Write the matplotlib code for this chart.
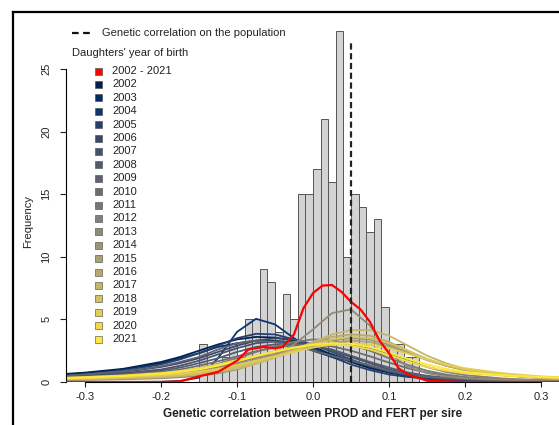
import matplotlib
matplotlib.use("Agg")
import matplotlib.pyplot as plt
import numpy as np
from matplotlib.lines import Line2D
from matplotlib.patches import Rectangle

plt.rcParams['font.family'] = ['Liberation Sans', 'DejaVu Sans']

# histogram of sire correlations (bin width 0.01, first bin starts at -0.15)
bin_counts = [3, 1, 1, 2, 3, 2, 5, 5, 9, 8, 4, 7, 5, 15, 15,
              17, 21, 16, 28, 10, 15, 14, 12, 13, 6, 3, 3, 2, 2]
bin_left = np.round(-0.15 + 0.01 * np.arange(len(bin_counts)), 2)
pop_corr = 0.05

# density curves
grid_x = [-0.325, -0.3, -0.25, -0.2, -0.175, -0.15, -0.125, -0.1, -0.075, -0.05,
          -0.025, 0, 0.025, 0.05, 0.075, 0.1, 0.125, 0.15, 0.175, 0.2, 0.25, 0.3, 0.325]
years = [str(y) for y in range(2002, 2022)]
dens = {
    '2002': [0.65, 0.75, 1.05, 1.6, 2.0, 2.5, 3.0, 3.4, 3.6, 3.55, 3.3, 2.8, 2.2, 1.6, 1.1, 0.75, 0.5, 0.35, 0.25, 0.2, 0.12, 0.08, 0.07],
    '2003': [0.6, 0.7, 1.0, 1.5, 1.9, 2.3, 2.8, 3.1, 3.3, 3.3, 3.1, 2.7, 2.2, 1.7, 1.2, 0.8, 0.55, 0.4, 0.3, 0.22, 0.13, 0.08, 0.07],
    '2004': [0.0, 0.0, 0.0, 0.02, 0.08, 0.35, 1.9, 4.0, 5.05, 4.6, 3.5, 2.5, 2.0, 1.7, 1.3, 0.8, 0.45, 0.25, 0.12, 0.06, 0.02, 0.01, 0.01],
    '2005': [0.5, 0.6, 0.9, 1.4, 1.8, 2.3, 2.9, 3.5, 3.85, 3.8, 3.4, 2.7, 2.0, 1.4, 0.95, 0.6, 0.4, 0.28, 0.2, 0.15, 0.1, 0.07, 0.06],
    '2006': [0.45, 0.55, 0.8, 1.2, 1.5, 1.9, 2.4, 2.9, 3.3, 3.5, 3.4, 3.0, 2.4, 1.8, 1.25, 0.85, 0.55, 0.38, 0.27, 0.2, 0.12, 0.08, 0.07],
    '2007': [0.4, 0.5, 0.7, 1.0, 1.3, 1.7, 2.2, 2.7, 3.1, 3.25, 3.2, 2.9, 2.5, 2.0, 1.5, 1.0, 0.65, 0.42, 0.3, 0.22, 0.13, 0.09, 0.08],
    '2008': [0.35, 0.42, 0.6, 0.9, 1.15, 1.5, 1.9, 2.4, 2.8, 3.0, 3.05, 2.9, 2.6, 2.1, 1.6, 1.15, 0.75, 0.5, 0.35, 0.25, 0.15, 0.1, 0.08],
    '2009': [0.5, 0.6, 0.85, 1.25, 1.6, 2.0, 2.6, 3.1, 3.3, 3.2, 2.9, 2.5, 2.1, 1.7, 1.3, 0.9, 0.6, 0.4, 0.3, 0.22, 0.13, 0.09, 0.08],
    '2010': [0.35, 0.4, 0.55, 0.8, 1.0, 1.3, 1.65, 2.05, 2.45, 2.75, 2.95, 3.0, 2.85, 2.5, 2.05, 1.55, 1.1, 0.75, 0.5, 0.35, 0.2, 0.12, 0.1],
    '2011': [0.3, 0.35, 0.45, 0.65, 0.85, 1.1, 1.45, 1.9, 2.4, 2.85, 3.2, 3.4, 3.35, 3.0, 2.5, 1.9, 1.35, 0.9, 0.6, 0.4, 0.2, 0.12, 0.1],
    '2012': [0.25, 0.3, 0.4, 0.55, 0.7, 0.9, 1.2, 1.55, 1.95, 2.35, 2.7, 2.95, 3.05, 2.95, 2.65, 2.2, 1.7, 1.2, 0.8, 0.55, 0.28, 0.15, 0.12],
    '2013': [0.15, 0.17, 0.22, 0.3, 0.38, 0.5, 0.7, 1.0, 1.5, 2.1, 3.0, 4.2, 5.5, 5.8, 4.5, 2.3, 1.2, 0.7, 0.45, 0.3, 0.18, 0.12, 0.1],
    '2014': [0.3, 0.33, 0.42, 0.55, 0.68, 0.85, 1.1, 1.4, 1.8, 2.2, 2.65, 3.05, 3.35, 3.5, 3.4, 3.0, 2.4, 1.8, 1.3, 0.95, 0.55, 0.33, 0.28],
    '2015': [0.25, 0.28, 0.36, 0.48, 0.6, 0.75, 0.95, 1.25, 1.6, 2.0, 2.45, 2.85, 3.15, 3.3, 3.2, 2.85, 2.3, 1.75, 1.3, 0.95, 0.55, 0.33, 0.28],
    '2016': [0.25, 0.28, 0.35, 0.45, 0.55, 0.7, 0.9, 1.2, 1.6, 2.05, 2.6, 3.15, 3.6, 3.8, 3.7, 3.2, 2.5, 1.8, 1.3, 0.95, 0.55, 0.33, 0.28],
    '2017': [0.2, 0.22, 0.28, 0.38, 0.47, 0.6, 0.8, 1.05, 1.45, 1.95, 2.55, 3.2, 3.8, 4.15, 4.15, 3.7, 2.9, 2.1, 1.5, 1.05, 0.55, 0.3, 0.25],
    '2018': [0.25, 0.28, 0.35, 0.47, 0.57, 0.72, 0.92, 1.2, 1.55, 2.0, 2.5, 3.0, 3.4, 3.6, 3.5, 3.1, 2.5, 1.85, 1.35, 1.0, 0.6, 0.38, 0.32],
    '2019': [0.28, 0.32, 0.4, 0.55, 0.65, 0.82, 1.05, 1.35, 1.7, 2.05, 2.4, 2.75, 3.0, 3.1, 3.0, 2.7, 2.25, 1.8, 1.4, 1.1, 0.7, 0.45, 0.38],
    '2020': [0.35, 0.4, 0.52, 0.72, 0.88, 1.1, 1.4, 1.75, 2.1, 2.45, 2.75, 2.95, 3.0, 2.9, 2.6, 2.15, 1.65, 1.2, 0.9, 0.7, 0.5, 0.38, 0.35],
    '2021': [0.3, 0.35, 0.47, 0.65, 0.8, 1.0, 1.3, 1.65, 2.05, 2.4, 2.75, 3.0, 3.1, 3.05, 2.8, 2.35, 1.85, 1.4, 1.05, 0.8, 0.55, 0.4, 0.35],
}
all_x = [-0.325, -0.2, -0.175, -0.15, -0.125, -0.1, -0.085, -0.065, -0.05, -0.04, -0.025,
         -0.0125, 0, 0.0125, 0.025, 0.0375, 0.05, 0.0625, 0.075, 0.0875, 0.1, 0.1125,
         0.125, 0.15, 0.2, 0.325]
all_y = [0, 0, 0.05, 0.45, 0.8, 1.7, 2.6, 2.8, 2.7, 2.8, 3.8,
         5.9, 7.1, 7.7, 7.75, 7.2, 6.4, 5.8, 4.8, 3.3, 2.3, 1.1,
         0.6, 0.1, 0, 0]

W, H = 559, 425
fig = plt.figure(figsize=(W / 100, H / 100), dpi=100)
ax = fig.add_axes([66 / W, 43 / H, 493 / W, 362 / H])

ax.bar(bin_left, bin_counts, width=0.01, align='edge', color='#d3d3d3',
       edgecolor='#555555', linewidth=0.7, zorder=1)

cols = plt.cm.cividis(np.linspace(0, 1, len(years)))
for yr, c in zip(years, cols):
    ax.plot(grid_x, dens[yr], color=c, lw=1.3, zorder=2, clip_on=True)
ax.plot(all_x, all_y, color='#ff0000', lw=1.6, zorder=3)

ax.plot([pop_corr, pop_corr], [0, 27.1], color='#222222', lw=1.6,
        linestyle=(0, (2.8, 1.6)), zorder=4)

ax.set_xlim(-0.325, -0.325 + 493 / 760)
ax.set_ylim(0, 362 / 12.52)
for s in ['top', 'right']:
    ax.spines[s].set_visible(False)
ax.spines['left'].set_bounds(0, 25)
ax.spines['bottom'].set_bounds(-0.3, 0.3)
ax.spines['left'].set_linewidth(0.8)
ax.spines['bottom'].set_linewidth(0.8)
ax.set_xticks([-0.3, -0.2, -0.1, 0.0, 0.1, 0.2, 0.3])
ax.set_xticklabels(['-0.3', '-0.2', '-0.1', '0.0', '0.1', '0.2', '0.3'])
ax.set_yticks([0, 5, 10, 15, 20, 25])
ax.tick_params(axis='x', length=3.5, width=0.8, labelsize=8, pad=4, colors='#222222')
ax.tick_params(axis='y', length=4.5, width=0.8, labelsize=8, pad=6, colors='#222222')
for lab in ax.get_yticklabels():
    lab.set_rotation(90)
    lab.set_va('center')

fig.text(313 / W, 1 - 414 / H, 'Genetic correlation between PROD and FERT per sire',
         ha='center', va='center', fontsize=8.5, fontweight='bold', color='#222222')
fig.text(28 / W, 1 - 221 / H, 'Frequency', rotation=90, ha='center', va='center',
         fontsize=8, color='#222222')

# legend drawn by hand in pixel positions
def fx(x):
    return x / W

def fy(y):
    return 1 - y / H

fig.add_artist(Line2D([fx(72), fx(93)], [fy(33), fy(33)], color='#111111', lw=1.6,
                      linestyle=(0, (3, 2))))
fig.text(fx(102), fy(33), 'Genetic correlation on the population', fontsize=8,
         va='center', color='#222222')
fig.text(fx(72), fy(53), "Daughters' year of birth", fontsize=8, va='center',
         color='#222222')
labels = ['2002 - 2021'] + years
lcols = ['#ff0000'] + list(cols)
for i, (lab, c) in enumerate(zip(labels, lcols)):
    yy = 71 + i * 13.4
    fig.add_artist(Rectangle((fx(95), fy(yy + 3.5)), 7 / W, 7 / H, facecolor=c,
                             edgecolor='#444444', lw=0.4, transform=fig.transFigure))
    fig.text(fx(112), fy(yy), lab, fontsize=8, va='center', color='#222222')

# image frame (cropped border)
fig.add_artist(Line2D([fx(13), fx(13)], [fy(12), 0], color='black', lw=1.6))
fig.add_artist(Line2D([fx(13), 1], [fy(12), fy(12)], color='black', lw=1.6))

fig.savefig('out.png', dpi=100)
